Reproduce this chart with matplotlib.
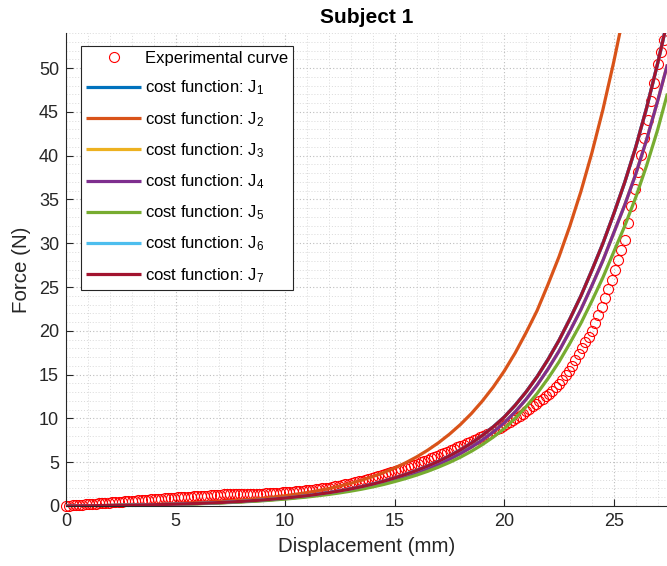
import numpy as np
import matplotlib
matplotlib.use("Agg")
import matplotlib.pyplot as plt
from matplotlib.ticker import MultipleLocator

plt.rcParams['font.family'] = ['Liberation Sans', 'DejaVu Sans']
plt.rcParams['mathtext.fontset'] = 'custom'
plt.rcParams['mathtext.rm'] = 'Liberation Sans'
plt.rcParams['mathtext.it'] = 'Liberation Sans'

# ---------------- data ----------------
title = "Subject 1"
x_label = "Displacement (mm)"
y_label = "Force (N)"

exp_step = 0.15  # displacement sampling step of the experimental curve (mm)
exp_force = [
    0.00, 0.03, 0.06, 0.09, 0.12, 0.15, 0.18,
    0.21, 0.24, 0.26, 0.29, 0.32, 0.34, 0.37,
    0.40, 0.43, 0.46, 0.49, 0.52, 0.55,
    0.58, 0.61, 0.64, 0.67, 0.70, 0.73, 0.76,
    0.79, 0.82, 0.85, 0.88, 0.91, 0.94, 0.97,
    1.00, 1.02, 1.04, 1.06, 1.08, 1.10,
    1.12, 1.14, 1.17, 1.19, 1.22, 1.24, 1.26,
    1.29, 1.32, 1.35, 1.38,
    1.39, 1.38, 1.38, 1.37, 1.38, 1.38, 1.38, 1.39, 1.40,
    1.42, 1.44, 1.47, 1.49, 1.52, 1.54, 1.56,
    1.59, 1.62, 1.65, 1.68, 1.71, 1.74, 1.77,
    1.81, 1.86, 1.91, 1.96, 2.00, 2.05,
    2.10, 2.17, 2.25, 2.32, 2.40, 2.47, 2.55,
    2.63, 2.72, 2.81, 2.90, 2.99, 3.08, 3.17,
    3.27, 3.39, 3.50, 3.61, 3.72, 3.84,
    3.95, 4.08, 4.20, 4.33, 4.46, 4.59, 4.71,
    4.85, 5.00, 5.15, 5.30, 5.45, 5.60, 5.75,
    5.90, 6.06, 6.22, 6.38, 6.53, 6.69,
    6.85, 7.01, 7.18, 7.34, 7.51, 7.67, 7.84,
    8.01, 8.20, 8.39, 8.58, 8.76, 8.95, 9.14,
    9.36, 9.60, 9.84, 10.08, 10.32, 10.56,
    10.80, 11.09, 11.37, 11.66, 11.94, 12.23, 12.51,
    12.82, 13.18, 13.54, 13.90,
    14.41, 14.92, 15.43,
    16.04, 16.70, 17.36,
    18.02, 18.68, 19.34, 20.00,
    20.90, 21.80, 22.70,
    23.70, 24.75, 25.80,
    26.89, 28.06, 29.23, 30.40,
    32.32, 34.24, 36.16,
    38.10, 40.05, 42.00,
    44.02, 46.18, 48.34, 50.50,
    51.85, 53.20,
]
exp_disp = exp_step * np.arange(len(exp_force))

fit_x = [0, 1, 2, 3, 4, 5, 6, 7, 8, 9, 10, 11, 12,
         12.5, 13, 13.5, 14, 14.5, 15, 15.5, 16, 16.5, 17, 17.5, 18, 18.5, 19, 19.5, 20,
         20.5, 21, 21.5, 22, 22.5, 23, 23.5, 24, 24.5, 25, 25.5, 26, 26.5, 27, 27.45]

J7 = [0, 0.025, 0.056, 0.095, 0.145, 0.21, 0.29, 0.39, 0.525, 0.69, 0.905, 1.175, 1.52,
      1.722, 1.95, 2.208, 2.5, 2.828, 3.2, 3.600, 4.05, 4.545, 5.1, 5.713, 6.4, 7.178, 8.05,
      9.039, 10.15,
      11.5, 13.03, 14.76, 16.73, 18.91, 21.37, 23.98, 26.9, 29.95, 33.35, 36.95, 40.94, 45.46,
      50.5, 55.4]
J4 = [0, 0.023, 0.052, 0.089, 0.136, 0.196, 0.271, 0.365, 0.491, 0.645, 0.846, 1.099, 1.421,
      1.610, 1.823, 2.064, 2.338, 2.644, 2.992, 3.366, 3.787, 4.250, 4.769, 5.342, 5.984,
      6.711, 7.527, 8.451, 9.49,
      10.75, 12.18, 13.80, 15.64, 17.68, 19.98, 22.42, 25.15, 28.0, 31.18, 34.36, 37.87, 41.82,
      46.21, 50.41]
J5 = [0, 0.022, 0.049, 0.083, 0.126, 0.183, 0.252, 0.339, 0.457, 0.600, 0.787, 1.022, 1.322,
      1.498, 1.697, 1.921, 2.175, 2.460, 2.784, 3.132, 3.524, 3.954, 4.437, 4.970, 5.568,
      6.245, 7.004, 7.864, 8.83,
      10.005, 11.34, 12.84, 14.56, 16.45, 18.59, 20.86, 23.40, 26.06, 29.01, 31.96, 35.21, 38.87,
      42.93, 47.09]
J2 = [0, 0.030, 0.068, 0.117, 0.180, 0.260, 0.364, 0.497, 0.668, 0.887, 1.168, 1.53, 1.995,
      2.274, 2.59, 2.949, 3.36, 3.818, 4.34, 4.930, 5.60, 6.361, 7.22, 8.197, 9.30, 10.55,
      11.98, 13.58, 15.4,
      17.47, 19.8, 22.3, 25.3, 28.45, 32.0, 35.9, 40.3, 45.2, 50.7, 56.7, 63.5, 71.0, 79.0, 87.0]
J1 = J7
J3 = J4
J6 = J7

series = [("1", J1), ("2", J2), ("3", J3), ("4", J4), ("5", J5), ("6", J6), ("7", J7)]
colors = ["#0072BD", "#D95319", "#EDB120", "#7E2F8E", "#77AC30", "#4DBEEE", "#A2142F"]

x_lim = (0, 27.43)
y_lim = (0, 54)
x_ticks = [0, 5, 10, 15, 20, 25]
y_ticks = [0, 5, 10, 15, 20, 25, 30, 35, 40, 45, 50]

# ---------------- figure ----------------
W, H = 667, 566
fig = plt.figure(figsize=(W / 100, H / 100), dpi=100)
ax = fig.add_axes([66 / W, 60 / H, 601 / W, 473 / H])

axis_col = "#262626"

ax.plot(exp_disp, exp_force, linestyle="none", marker="o", markersize=7.2,
        markerfacecolor="none", markeredgecolor="#FF0000", markeredgewidth=0.8,
        label="Experimental curve", clip_on=False, zorder=2)

for (name, vals), c in zip(series, colors):
    ax.plot(fit_x, vals, color=c, linewidth=2.3, solid_capstyle="butt",
            solid_joinstyle="round",
            label="cost function: J$_{" + name + "}$", zorder=3)

ax.set_xlim(*x_lim)
ax.set_ylim(*y_lim)
ax.set_xticks(x_ticks)
ax.set_yticks(y_ticks)
ax.xaxis.set_minor_locator(MultipleLocator(1))
ax.yaxis.set_minor_locator(MultipleLocator(1))

ax.grid(which="major", linestyle=(0, (1, 2)), color="#bdbdbd", linewidth=0.8)
ax.grid(which="minor", linestyle=(0, (1, 2)), color="#d9d9d9", linewidth=0.7)
ax.set_axisbelow(True)

for s in ["top", "right"]:
    ax.spines[s].set_visible(False)
for s in ["left", "bottom"]:
    ax.spines[s].set_color(axis_col)
    ax.spines[s].set_linewidth(0.8)

ax.tick_params(which="major", direction="in", length=5, width=0.8, color=axis_col,
               labelcolor=axis_col, labelsize=13, pad=5)
ax.tick_params(which="minor", length=0)

ax.set_xlabel(x_label, fontsize=14.8, color=axis_col, labelpad=5)
ax.set_ylabel(y_label, fontsize=14.8, color=axis_col, labelpad=6)
ax.set_title(title, fontsize=15, fontweight="bold", color="black", pad=7)

leg = ax.legend(loc="upper left", bbox_to_anchor=(0.025, 0.972), fontsize=12,
                frameon=True, fancybox=False, framealpha=1, edgecolor=axis_col,
                handlelength=3.3, handletextpad=0.25, labelspacing=0.75,
                borderpad=0.3, borderaxespad=0)
leg.get_frame().set_linewidth(0.8)

fig.savefig("out.png", dpi=100)
